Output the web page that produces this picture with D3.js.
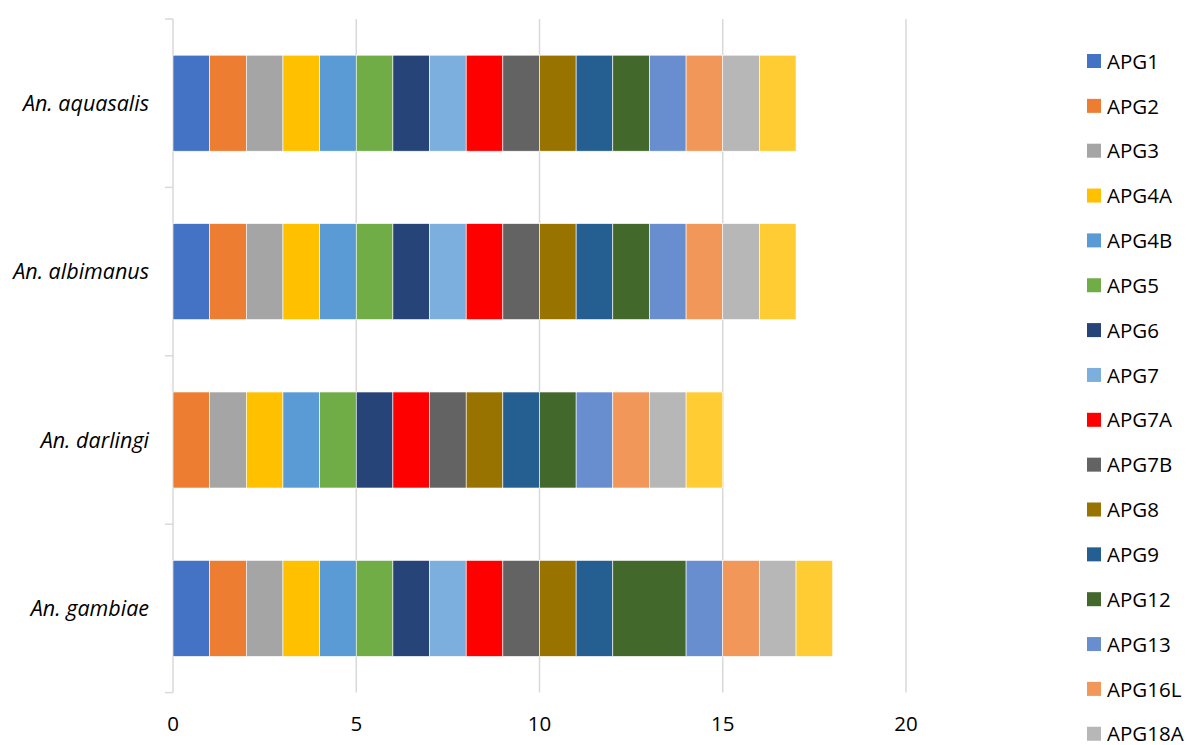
<!DOCTYPE html>
<html>
<head>
<meta charset="utf-8">
<script src="https://cdn.jsdelivr.net/npm/d3@7"></script>
<style>
  html, body { margin: 0; padding: 0; background: #fff; overflow: hidden; }
  svg { display: block; }
  text { font-family: "Open Sans", "Noto Sans", sans-serif; fill: #000; }
</style>
</head>
<body>
<svg id="chart" width="1187" height="745"></svg>
<script>
// Species, listed top to bottom
const categories = ["An. aquasalis", "An. albimanus", "An. darlingi", "An. gambiae"];

// Autophagy-related gene families (stack order, left to right)
const seriesNames = ["APG1", "APG2", "APG3", "APG4A", "APG4B", "APG5", "APG6", "APG7",
  "APG7A", "APG7B", "APG8", "APG9", "APG12", "APG13", "APG16L", "APG18A", "APG18B"];

const seriesColors = ["#4472C4", "#ED7D31", "#A5A5A5", "#FFC000", "#5B9BD5", "#70AD47",
  "#264478", "#7CAFDD", "#FF0000", "#636363", "#997300", "#255E91", "#43682B",
  "#698ED0", "#F1975A", "#B7B7B7", "#FFCD33"];

// Gene counts per species, in seriesNames order
const aquasalisCounts = [1, 1, 1, 1, 1, 1, 1, 1, 1, 1, 1, 1, 1, 1, 1, 1, 1];
const albimanusCounts = [1, 1, 1, 1, 1, 1, 1, 1, 1, 1, 1, 1, 1, 1, 1, 1, 1];
const darlingiCounts  = [0, 1, 1, 1, 1, 1, 1, 0, 1, 1, 1, 1, 1, 1, 1, 1, 1];
const gambiaeCounts   = [1, 1, 1, 1, 1, 1, 1, 1, 1, 1, 1, 1, 2, 1, 1, 1, 1];

const xTicks = [0, 5, 10, 15, 20];

const countsBySpecies = [aquasalisCounts, albimanusCounts, darlingiCounts, gambiaeCounts];
const rows = categories.map((c, i) => {
  const r = { species: c };
  seriesNames.forEach((s, j) => { r[s] = countsBySpecies[i][j]; });
  return r;
});

const svg = d3.select("#chart");
const plot = { left: 173, right: 906, top: 19, bottom: 692.6 };

const x = d3.scaleLinear().domain([0, 20]).range([plot.left, plot.right]);
const y = d3.scaleBand().domain(categories).range([plot.top, plot.bottom])
  .paddingInner(0.43).paddingOuter(0.215);
const yEdge = d3.scaleBand().domain(categories).range([plot.top, plot.bottom]);
const color = d3.scaleOrdinal().domain(seriesNames).range(seriesColors);

// Vertical gridlines
svg.append("g")
  .selectAll("line")
  .data(xTicks.filter(t => t > 0))
  .join("line")
  .attr("x1", d => x(d)).attr("x2", d => x(d))
  .attr("y1", plot.top).attr("y2", plot.bottom)
  .attr("stroke", "#d9d9d9").attr("stroke-width", 1.5);

// Category axis line with tick marks at band edges
const axisG = svg.append("g");
axisG.append("line")
  .attr("x1", plot.left).attr("x2", plot.left)
  .attr("y1", plot.top).attr("y2", plot.bottom)
  .attr("stroke", "#d9d9d9").attr("stroke-width", 1.5);
const edges = categories.map(c => yEdge(c)).concat([plot.bottom]);
axisG.selectAll("line.tick")
  .data(edges)
  .join("line")
  .attr("class", "tick")
  .attr("x1", plot.left - 8).attr("x2", plot.left)
  .attr("y1", d => d).attr("y2", d => d)
  .attr("stroke", "#d9d9d9").attr("stroke-width", 1.5);

// Stacked bars
const stack = d3.stack().keys(seriesNames)(rows);
svg.append("g")
  .selectAll("g")
  .data(stack)
  .join("g")
  .attr("fill", d => color(d.key))
  .selectAll("rect")
  .data(d => d.filter(p => p[1] - p[0] > 0))
  .join("rect")
  .attr("x", d => x(d[0]))
  .attr("width", d => x(d[1]) - x(d[0]))
  .attr("y", d => y(d.data.species))
  .attr("height", y.bandwidth())
  .attr("stroke", "#ffffff")
  .attr("stroke-width", 0.6);

// Category labels
svg.append("g")
  .selectAll("text")
  .data(categories)
  .join("text")
  .attr("x", 149)
  .attr("y", d => yEdge(d) + yEdge.bandwidth() / 2)
  .attr("dy", "0.35em")
  .attr("text-anchor", "end")
  .style("font-style", "italic")
  .style("font-size", "21.5px")
  .text(d => d);

// Value axis labels
svg.append("g")
  .selectAll("text")
  .data(xTicks)
  .join("text")
  .attr("x", d => x(d))
  .attr("y", 724)
  .attr("dy", "0.35em")
  .attr("text-anchor", "middle")
  .style("font-size", "20.5px")
  .text(d => d);

// Legend
const legend = svg.append("g");
const item = legend.selectAll("g")
  .data(seriesNames)
  .join("g")
  .attr("transform", (d, i) => `translate(1087, ${61.5 + i * 44.85})`);
item.append("rect")
  .attr("x", 0).attr("y", -7.5)
  .attr("width", 14).attr("height", 14)
  .attr("fill", d => color(d));
item.append("text")
  .attr("x", 20).attr("y", 0)
  .attr("dy", "0.35em")
  .style("font-size", "20.5px")
  .text(d => d);
</script>
</body>
</html>
